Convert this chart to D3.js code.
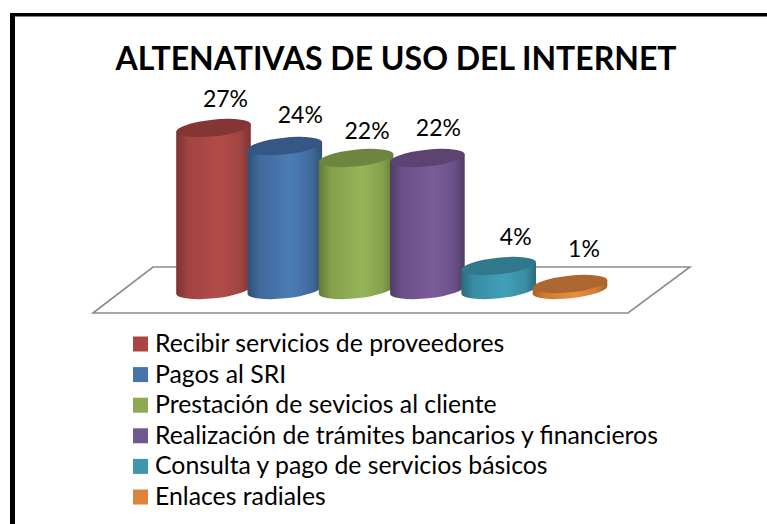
<!DOCTYPE html>
<html lang="es">
  <head>
    <title>Alternativas de uso del internet</title>
    <meta charset="utf-8">
    <script src="https://d3js.org/d3.v7.min.js"></script>
    <style>
      html, body { margin: 0; padding: 0; background: #fff; }
      svg { display: block; font-family: Lato, "Open Sans", sans-serif; }
    </style>
  </head>
  <body>
    <div id="main"></div>
    <script>
      var title = "ALTENATIVAS DE USO DEL INTERNET";
      var categories = ["Recibir servicios de proveedores", "Pagos al SRI", "Prestación de sevicios al cliente",
        "Realización de trámites bancarios y financieros", "Consulta y pago de servicios básicos", "Enlaces radiales"];
      var values = [27, 24, 22, 22, 4, 1];
      var faceColors = ["#b34c49", "#4a7db5", "#95b558", "#7b5c9a", "#41a0b9", "#e98c3e"];
      var midColors = ["#a04442", "#41699a", "#85a04c", "#6b5088", "#388da3", "#d07c35"];
      var edgeColors = ["#7c3331", "#2f5078", "#627a38", "#4f3b65", "#2a6b7c", "#a45f2a"];
      var topColors = ["#843634", "#345784", "#6d853e", "#5b4472", "#31788c", "#ab672f"];
      var swatchColors = ["#aa4644", "#4674a8", "#8ea853", "#71588f", "#3f97ae", "#db843d"];

      var width = 767, height = 524;
      var rx = 37.5, ry = 8.3, tilt = -6;
      var dx = rx * Math.cos(tilt * Math.PI / 180), dy = rx * Math.sin(tilt * Math.PI / 180);

      var svg = d3.select("#main").append("svg").attr("width", width).attr("height", height);

      // frame of the picture
      svg.append("rect").attr("x", 10).attr("y", 13).attr("width", 5).attr("height", 511).attr("fill", "#000");
      svg.append("rect").attr("x", 10).attr("y", 13).attr("width", 757).attr("height", 3.5).attr("fill", "#000");

      svg.append("text").attr("x", 396).attr("y", 70)
        .attr("text-anchor", "middle").attr("font-size", 32).attr("font-weight", 700)
        .text(title);

      var x = d3.scalePoint().domain(categories).range([213.5, 570]);
      var y = d3.scaleLinear().domain([0, 27]).range([290, 128]);

      // floor of the 3d plot
      svg.append("polygon")
        .attr("points", "93,313 153,267 690,267 628,313")
        .attr("fill", "#fff").attr("stroke", "#8c8c8c").attr("stroke-width", 1.6);

      var defs = svg.append("defs");
      var grads = defs.selectAll("linearGradient").data(categories).enter().append("linearGradient")
        .attr("id", function(d, i) { return "face" + i; });
      grads.append("stop").attr("offset", "0%").attr("stop-color", function(d, i) { return edgeColors[i]; });
      grads.append("stop").attr("offset", "16%").attr("stop-color", function(d, i) { return midColors[i]; });
      grads.append("stop").attr("offset", "58%").attr("stop-color", function(d, i) { return faceColors[i]; });
      grads.append("stop").attr("offset", "86%").attr("stop-color", function(d, i) { return midColors[i]; });
      grads.append("stop").attr("offset", "100%").attr("stop-color", function(d, i) { return edgeColors[i]; });

      function sidePath(d, i) {
        var cx = x(d), top = y(values[i]), bottom = y(0);
        return "M" + (cx - dx) + "," + (top - dy) +
          "L" + (cx - dx) + "," + (bottom - dy) +
          "A" + rx + "," + ry + " " + tilt + " 0 0 " + (cx + dx) + "," + (bottom + dy) +
          "L" + (cx + dx) + "," + (top + dy) + "Z";
      }

      var bars = svg.selectAll("g.bar").data(categories).enter().append("g").attr("class", "bar");
      bars.append("path")
        .attr("d", sidePath)
        .attr("fill", function(d, i) { return "url(#face" + i + ")"; });
      bars.append("ellipse")
        .attr("rx", rx).attr("ry", ry)
        .attr("transform", function(d, i) { return "translate(" + x(d) + "," + y(values[i]) + ") rotate(" + tilt + ")"; })
        .attr("fill", function(d, i) { return topColors[i]; });

      // data labels sit above each cylinder, excel moved each one a little
      var labelDx = [12, 15.5, 11, 11, 17, 14];
      var labelDy = [21, 23, 19.5, 22, 21, 27];
      svg.selectAll("text.label").data(categories).enter().append("text")
        .attr("class", "label")
        .attr("x", function(d, i) { return x(d) + labelDx[i]; })
        .attr("y", function(d, i) { return y(values[i]) - labelDy[i]; })
        .attr("text-anchor", "middle").attr("font-size", 23)
        .text(function(d, i) { return values[i] + "%"; });

      var legendY = d3.scalePoint().domain(categories).range([344, 497]);
      var legend = svg.selectAll("g.legend").data(categories).enter().append("g")
        .attr("class", "legend")
        .attr("transform", function(d) { return "translate(133," + legendY(d) + ")"; });
      legend.append("rect")
        .attr("y", -7.5).attr("width", 15).attr("height", 15)
        .attr("fill", function(d, i) { return swatchColors[i]; });
      legend.append("text")
        .attr("x", 22).attr("y", 8).attr("font-size", 24.8)
        .text(function(d) { return d; });
    </script>
  </body>
</html>
